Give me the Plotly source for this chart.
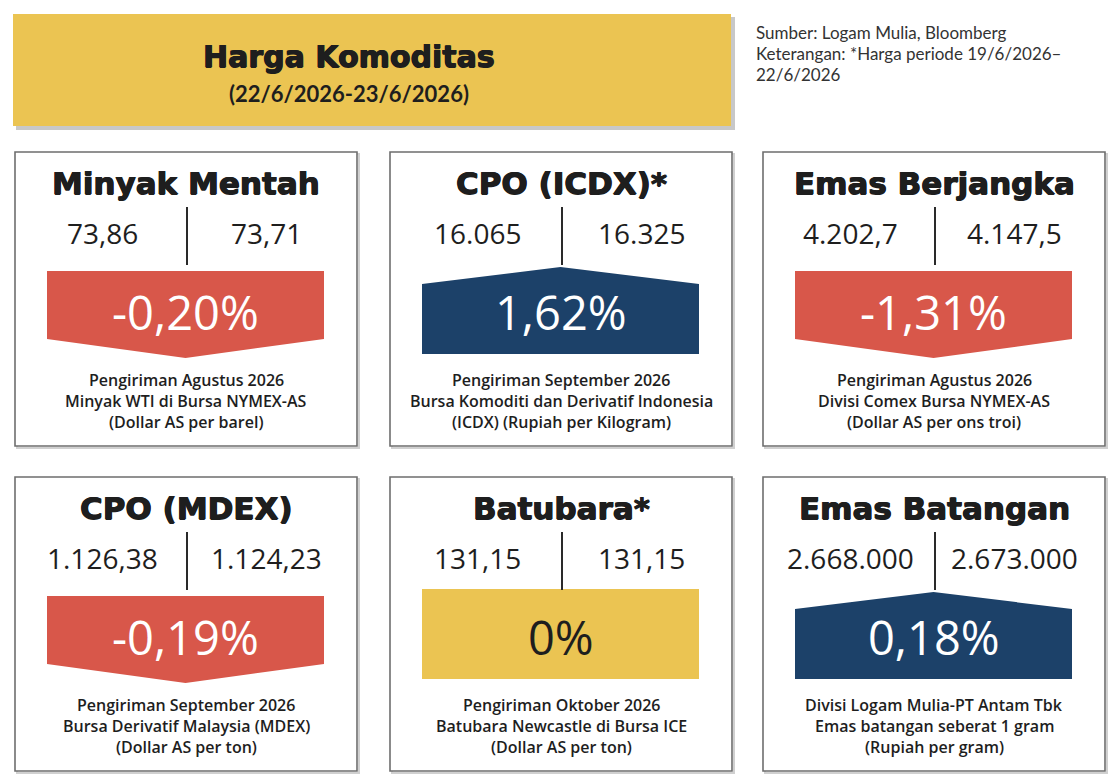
import plotly.graph_objects as go

# ---- data ----
titles = ["Minyak Mentah", "CPO (ICDX)*", "Emas Berjangka",
          "CPO (MDEX)", "Batubara*", "Emas Batangan"]
prev_values = ["73,86", "16.065", "4.202,7", "1.126,38", "131,15", "2.668.000"]
curr_values = ["73,71", "16.325", "4.147,5", "1.124,23", "131,15", "2.673.000"]
changes = [-0.20, 1.62, -1.31, -0.19, 0.0, 0.18]
change_labels = ["-0,20%", "1,62%", "-1,31%", "-0,19%", "0%", "0,18%"]
notes = [
    ["Pengiriman Agustus 2026", "Minyak WTI di Bursa NYMEX-AS", "(Dollar AS per barel)"],
    ["Pengiriman September 2026", "Bursa Komoditi dan Derivatif Indonesia", "(ICDX) (Rupiah per Kilogram)"],
    ["Pengiriman Agustus 2026", "Divisi Comex Bursa NYMEX-AS", "(Dollar AS per ons troi)"],
    ["Pengiriman September 2026", "Bursa Derivatif Malaysia (MDEX)", "(Dollar AS per ton)"],
    ["Pengiriman Oktober 2026", "Batubara Newcastle di Bursa ICE", "(Dollar AS per ton)"],
    ["Divisi Logam Mulia-PT Antam Tbk", "Emas batangan seberat 1 gram", "(Rupiah per gram)"],
]
header_title = "Harga Komoditas"
header_sub = "(22/6/2026-23/6/2026)"
source_lines = ["Sumber: Logam Mulia, Bloomberg",
                "Keterangan: *Harga periode 19/6/2026–",
                "22/6/2026"]

# ---- styling ----
YELLOW = "#EBC452"
RED = "#D8574A"
NAVY = "#1C4169"
BORDER = "#6E6E6E"
TXT = "#1E1E1E"
HEAVY = "DejaVu Sans"
THICK = "0.6px 0 0 #1E1E1E, -0.6px 0 0 #1E1E1E, 0 0.5px 0 #1E1E1E"

W, H = 1120, 784
OFF = 8  # page body margin compensation
col_left = [15, 390, 763]
row_top = [152, 477]
PW, PH = 342, 294

fig = go.Figure()
shapes = []
ann = []

# header box with shadow
shapes.append(dict(type="rect", x0=16, y0=17, x1=735, y1=130, fillcolor="#9A9A9A",
                   line=dict(width=0), opacity=0.55, layer="below"))
shapes.append(dict(type="rect", x0=13, y0=14, x1=731, y1=126, fillcolor=YELLOW,
                   line=dict(width=0), layer="below"))
ann.append(dict(x=349, y=56, text=header_title, showarrow=False,
                font=dict(family=HEAVY, size=30, color=TXT, weight="bold", shadow=THICK)))
ann.append(dict(x=349, y=93, text=header_sub, showarrow=False,
                font=dict(family="Lato", size=22, color=TXT, weight=700)))
for i, line in enumerate(source_lines):
    ann.append(dict(x=754, y=32 + i * 21, text=line, showarrow=False, xanchor="left",
                    font=dict(family="Lato", size=17, color="#333333")))

for k in range(6):
    left = col_left[k % 3]
    top = row_top[k // 3]
    right = left + PW
    bottom = top + PH
    cx = (left + right) / 2
    # panel shadow + border
    shapes.append(dict(type="rect", x0=left + 2, y0=top + 2, x1=right + 2, y1=bottom + 2,
                       line=dict(color="#D0D0D0", width=2), layer="below"))
    shapes.append(dict(type="rect", x0=left, y0=top, x1=right, y1=bottom,
                       line=dict(color=BORDER, width=1.6), fillcolor="white", layer="below"))
    # title
    ann.append(dict(x=cx, y=top + 31, text=titles[k], showarrow=False,
                    font=dict(family=HEAVY, size=31, color=TXT, weight="bold", shadow=THICK)))
    # divider
    dx = left + 172
    shapes.append(dict(type="line", x0=dx, x1=dx, y0=top + 55, y1=top + 113,
                       line=dict(color="#2A2A2A", width=2)))
    # values
    ann.append(dict(x=(left + dx) / 2 + 1, y=top + 81, text=prev_values[k], showarrow=False,
                    font=dict(family="Open Sans", size=28, color=TXT)))
    ann.append(dict(x=(dx + right) / 2 - 6, y=top + 81, text=curr_values[k], showarrow=False,
                    font=dict(family="Open Sans", size=28, color=TXT)))
    # banner
    x0, x1 = left + 32, left + 309
    mid = (x0 + x1) / 2
    c = changes[k]
    if c < 0:
        xs = [x0, x1, x1, mid, x0, x0]
        ys = [top + 119, top + 119, top + 187, top + 206, top + 187, top + 119]
        col, tcol = RED, "white"
    elif c > 0:
        xs = [x0, mid, x1, x1, x0, x0]
        ys = [top + 132, top + 115, top + 132, top + 202, top + 202, top + 132]
        col, tcol = NAVY, "white"
    else:
        xs = [x0, x1, x1, x0, x0]
        ys = [top + 112, top + 112, top + 202, top + 202, top + 112]
        col, tcol = YELLOW, TXT
    fig.add_trace(go.Scatter(x=xs, y=ys, fill="toself", fillcolor=col, mode="lines",
                             line=dict(width=0, color=col), hoverinfo="skip", showlegend=False))
    ann.append(dict(x=mid, y=top + 160, text=change_labels[k], showarrow=False,
                    font=dict(family="Open Sans", size=47, color=tcol)))
    for j, line in enumerate(notes[k]):
        ann.append(dict(x=cx, y=top + 228 + j * 21, text=line, showarrow=False,
                        font=dict(family="Open Sans", size=16, color=TXT, weight=600)))

fig.update_layout(
    width=W - 2 * OFF, height=H - 2 * OFF, margin=dict(l=0, r=0, t=0, b=0),
    paper_bgcolor="white", plot_bgcolor="white",
    xaxis=dict(range=[OFF, W - OFF], visible=False, fixedrange=True),
    yaxis=dict(range=[H - OFF, OFF], visible=False, fixedrange=True),
    shapes=shapes, annotations=ann, showlegend=False,
)
fig.write_html("out.html")
